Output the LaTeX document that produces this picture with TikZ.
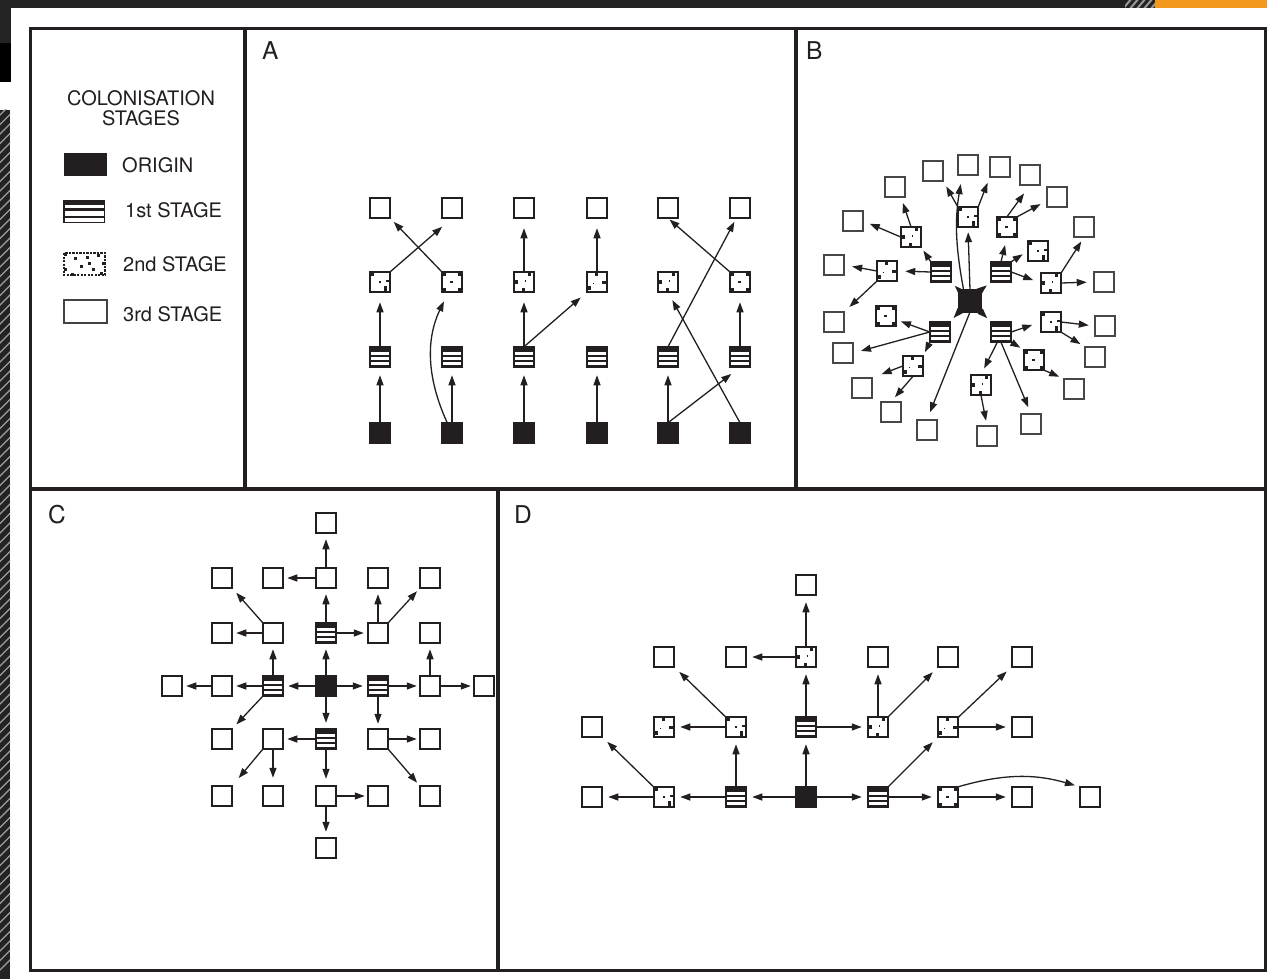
\documentclass[tikz,border=0pt]{standalone}
\usepackage{fontspec}
\setmainfont{TeX Gyre Heros}
\usetikzlibrary{arrows.meta,calc}
\definecolor{uibar}{HTML}{232323}
\definecolor{uiorange}{HTML}{F39A1E}
\definecolor{ink}{HTML}{231F20}
\newcommand\dsq[4]{\fill[ink] ($(path picture bounding box.north west)+(#1,#2)$) rectangle ($(path picture bounding box.north west)+(#3,#4)$);}
\newcommand\wsq[4]{\fill[white] ($(path picture bounding box.north west)+(#1,#2)$) rectangle ($(path picture bounding box.north west)+(#3,#4)$);}
\begin{document}
\begin{tikzpicture}[x=1pt,y=-1pt,
  box/.style={draw=ink, line width=1.7pt, minimum size=20.5pt, inner sep=0pt, outer sep=0pt, fill=white},
  orig/.style={box, fill=ink},
  third/.style={box},
  thirdB/.style={box, draw=black!72, line width=2pt},
  first/.style={box, fill=ink, path picture={\wsq{0.8}{4.8}{19.7}{7.8}\wsq{0.8}{9.9}{19.7}{13.6}\wsq{0.8}{15.7}{19.7}{18.7}}},
  secA/.style={box, path picture={\dsq{1}{1}{4.5}{4.5}\dsq{14}{14.5}{17.5}{19}\dsq{9.5}{9.5}{11}{11}\dsq{16.5}{8}{19.5}{10.5}}},
  secB/.style={box, path picture={\dsq{14}{1}{17.5}{4.5}\dsq{1}{8}{4}{12}\dsq{8}{16}{11}{19.5}\dsq{11}{8.5}{12.5}{10}}},
  secC/.style={box, path picture={\dsq{1}{1}{4}{4}\dsq{16.5}{1}{19.5}{4}\dsq{1}{16.5}{4}{19.5}\dsq{16.5}{16.5}{19.5}{19.5}\dsq{8.5}{9.5}{11.5}{10.8}}},
  secD/.style={box, path picture={\dsq{8}{1}{11}{4.5}\dsq{1}{14}{4}{18}\dsq{15.5}{9}{19.5}{12}\dsq{6}{11}{7.5}{12.5}}},
  arr/.style={-{Triangle[length=10pt,width=7pt]}, line width=1.3pt, draw=ink, shorten >=#1},
  arr/.default=6pt,
  lbl/.style={font=\fontsize{20}{20}\selectfont, text=ink, inner sep=0pt},
  plbl/.style={font=\fontsize{24.5}{24}\selectfont, text=ink, inner sep=0pt, anchor=base west},
  frame/.style={draw=ink, line width=3.6pt}
]
\useasboundingbox (0,0) rectangle (1267,979);
\fill[white] (0,0) rectangle (1267,979);
% ---- screen artefacts ----
\fill[uibar] (0,0) rectangle (1125,8);
\fill[uiorange] (1155,0) rectangle (1267,8);
\begin{scope}
  \clip (1125,0) rectangle (1155,8);
  \fill[uibar] (1125,0) rectangle (1155,8);
  \foreach \k in {0,...,5} \draw[gray!80, line width=2pt] ({1122+\k*7},10) -- ++(10,-12);
\end{scope}
\fill[uibar] (0,0) rectangle (11,43);
\fill[black] (0,43) rectangle (11,82);
\begin{scope}
  \clip (0,110) rectangle (10,979);
  \fill[uibar] (0,110) rectangle (10,979);
  \foreach \k in {0,...,90} \draw[gray!75, line width=1.3pt] (-3,{118+\k*9.5}) -- ++(16,-16);
\end{scope}
% ---- frame ----
\draw[frame] (30.5,28.5) rectangle (1266,970.5);
\draw[frame] (245,28.5) -- (245,489);
\draw[frame] (796,28.5) -- (796,489);
\draw[frame] (30.5,489) -- (1266,489);
\draw[frame] (498,489) -- (498,970.5);
% ---- panel letters ----
\node[plbl] (labA) at (262,60) {A};
\node[plbl] (labB) at (806,60) {B};
\node[plbl] (labC) at (48,523) {C};
\node[plbl] (labD) at (514,523) {D};
% ---- legend ----
\node[lbl, align=center] (ltitle) at (141,108) {COLONISATION\\STAGES};
\fill[ink] (64,153) rectangle (107,176);
\fill[ink] (63,200) rectangle (105,223);
\fill[white] (64.5,205) rectangle (104,208.3);
\fill[white] (64.5,210.7) rectangle (104,216);
\fill[white] (64.5,218.3) rectangle (104,221.7);
\draw[ink, line width=1.3pt, dash pattern=on 2.2pt off 1.3pt] (64,253) rectangle (105,275);
\foreach \p/\q in {64/253,74/257,86/256,97/254,102/262,80/265,92/268,64/268,71/273,100/272,88/262}
  \fill[ink] (\p,\q) rectangle ++(2.6,2.6);
\draw[ink!85, line width=1.5pt] (64,300) rectangle (107,323);
\node[lbl, anchor=base west] (lorig) at (122,173) {ORIGIN};
\node[lbl, anchor=base west] (lfirst) at (125,218) {1st STAGE};
\node[lbl, anchor=base west] (lsecond) at (123,271) {2nd STAGE};
\node[lbl, anchor=base west] (lthird) at (123,321) {3rd STAGE};
% ================= PANEL A =================
\foreach \n/\x in {1/380,2/452,3/524,4/597,5/668,6/740}{
  \node[orig] (ao\n) at (\x,433) {};
  \node[first] (af\n) at (\x,357) {};
  \node[third] (at\n) at (\x,208) {};
}
\node[secA] (as1) at (380,282) {};
\node[secC] (as2) at (452,282) {};
\node[secB] (as3) at (524,282) {};
\node[secD] (as4) at (597,282) {};
\node[secB] (as5) at (668,282) {};
\node[secC] (as6) at (740,282) {};
\draw[arr=8pt] (ao1) -- (af1);
\draw[arr=10pt] (af1) -- (as1);
\draw[arr=13pt] (as1.north east) -- (at2.south);
\draw[arr=5pt] (as2.north west) -- (at1.south east);
\draw[arr=10pt] (ao2.115) to[bend left=25] (as2.250);
\draw[arr=8pt] (ao2) -- (af2);
\draw[arr=8pt] (ao3) -- (af3);
\draw[arr=10pt] (af3) -- (as3);
\draw[arr=10pt] (as3) -- (at3);
\draw[arr=8pt] (af3.north) -- (as4.south west);
\draw[arr=10pt] (as4) -- (at4);
\draw[arr=8pt] (ao4) -- (af4);
\draw[arr=8pt] (ao5) -- (af5);
\draw[arr=11pt] (ao5.north) -- (af6.south);
\draw[arr=4pt] (af5.north) -- (at6.250);
\draw[arr=9pt] (ao6.north) -- (as5.south);
\draw[arr=10pt] (af6) -- (as6);
\draw[arr=2pt] (as6.north west) -- (at5.south);
% ================= PANEL B =================
\node[orig, minimum size=22pt] (O) at (970,301) {};
\node[first] (F1) at (941,272) {};
\node[first] (F2) at (1001,272) {};
\node[first] (F3) at (940,332) {};
\node[first] (F4) at (1001,332) {};
\node[secA] (S1) at (968,217) {};
\node[secB] (S2) at (911,237) {};
\node[secD] (S3) at (887,271) {};
\node[secC] (S4) at (1007,227) {};
\node[secA] (S5) at (1038,251) {};
\node[secB] (S6) at (1051,283) {};
\node[secC] (S7) at (886,316) {};
\node[secD] (S8) at (913,366) {};
\node[secA] (S9) at (1051,322) {};
\node[secC] (S10) at (1034,360) {};
\node[secB] (S11) at (981,385) {};
\foreach \n/\x/\y in {1/933/171,2/968/165,3/1000/167,4/1030/175,5/1057/197,6/1084/227,7/1104/282,8/1105/326,9/1095/357,10/1074/389,11/1031/424,12/987/436,13/927/430,14/891/412,15/862/388,16/843/353,17/834/322,18/834/265,19/853/221,20/895/187}
  \node[thirdB] (T\n) at (\x,\y) {};
\draw[arr=5pt] (O.north west) -- (F1.south east);
\draw[arr=5pt] (O.north east) -- (F2.south west);
\draw[arr=5pt] (O.south west) -- (F3.north east);
\draw[arr=5pt] (O.south east) -- (F4.north west);
\draw[arr=5pt] (O.north) -- (S1.south);
\draw[arr=9pt] (O.120) to[bend left=10] (T2.240);
\draw[arr=6pt] (S1.north west) -- (T1.south east);
\draw[arr=6pt] (S1.north east) -- (T3.south west);
\draw[arr=4pt] (F1.north west) -- (S2.south east);
\draw[arr=8pt] (F1.west) -- (S3.east);
\draw[arr=6pt] (S2.north) -- (T20.300);
\draw[arr=7pt] (S2.west) -- (T19.east);
\draw[arr=8pt] (S3.west) -- (T18.east);
\draw[arr=7pt] (S3.south west) -- (T17.north east);
\draw[arr=8pt] (F2.north) -- (S4.south);
\draw[arr=6pt] (F2.north east) -- (S5.west);
\draw[arr=8pt] (F2.east) -- (S6.west);
\draw[arr=10pt] (S4.north) -- (T4.south);
\draw[arr=7pt] (S4.north east) -- (T5.200);
\draw[arr=5pt] (S6.north east) -- (T6.south);
\draw[arr=7pt] (S6.east) -- (T7.west);
\draw[arr=5pt] (F3.west) -- (S7.340);
\draw[arr=8pt] (F3.west) -- (T16.east);
\draw[arr=4pt] (F3.south west) -- (S8.north east);
\draw[arr=10pt] (S8.west) -- (T15.north east);
\draw[arr=6pt] (S8.south) -- (T14.north);
\draw[arr=8pt] (O.south) -- (T13.north);
\draw[arr=9pt] (F4.east) -- (S9.west);
\draw[arr=4pt] (F4.south east) -- (S10.north west);
\draw[arr=7pt] (F4.250) -- (S11.north);
\draw[arr=7pt] (F4.south) -- (T11.north);
\draw[arr=6pt] (S9.east) -- (T8.west);
\draw[arr=5pt] (S9.south east) -- (T9.north west);
\draw[arr=5pt] (S10.south east) -- (T10.north west);
\draw[arr=5pt] (S11.south) -- (T12.north);
% ================= PANEL C =================
\node[third] (cN) at (326,523) {};
\foreach \n/\x in {1/222,2/273,3/326,4/378,5/430}{
  \node[third] (ca\n) at (\x,578) {};
  \node[third] (ce\n) at (\x,796) {};
}
\node[third] (cb1) at (222,633) {};
\node[third] (cb2) at (273,633) {};
\node[first] (cb3) at (326,633) {};
\node[third] (cb4) at (378,633) {};
\node[third] (cb5) at (430,633) {};
\node[third] (cc0) at (172,686) {};
\node[third] (cc1) at (222,686) {};
\node[first] (cc2) at (273,686) {};
\node[orig] (cc3) at (326,686) {};
\node[first] (cc4) at (378,686) {};
\node[third] (cc5) at (430,686) {};
\node[third] (cc6) at (484,686) {};
\node[third] (cd1) at (222,739) {};
\node[third] (cd2) at (273,739) {};
\node[first] (cd3) at (326,739) {};
\node[third] (cd4) at (378,739) {};
\node[third] (cd5) at (430,739) {};
\node[third] (cS) at (326,848) {};
\draw[arr=6pt] (cc3) -- (cb3);
\draw[arr=5pt] (cc3) -- (cc2);
\draw[arr=5pt] (cc3) -- (cc4);
\draw[arr=6pt] (cc3) -- (cd3);
\draw[arr=6pt] (cb3) -- (ca3);
\draw[arr=4pt] (cb3) -- (cb4);
\draw[arr=6pt] (ca3) -- (cN);
\draw[arr=4pt] (ca3) -- (ca2);
\draw[arr=6pt] (cb4) -- (ca4);
\draw[arr=4pt] (cb4.north east) -- (ca5.south west);
\draw[arr=6pt] (cc2) -- (cb2);
\draw[arr=4pt] (cc2) -- (cc1);
\draw[arr=6pt] (cc2.south west) -- (cd1.north east);
\draw[arr=4pt] (cb2) -- (cb1);
\draw[arr=6pt] (cb2.north west) -- (ca1.south east);
\draw[arr=4pt] (cc1) -- (cc0);
\draw[arr=3pt] (cc4) -- (cc5);
\draw[arr=5pt] (cc4) -- (cd4);
\draw[arr=6pt] (cc5) -- (cb5);
\draw[arr=3pt] (cc5) -- (cc6);
\draw[arr=3pt] (cd4) -- (cd5);
\draw[arr=4pt] (cd4.south east) -- (ce5.north west);
\draw[arr=4pt] (cd3) -- (cd2);
\draw[arr=7pt] (cd3) -- (ce3);
\draw[arr=10pt] (cd2.south west) -- (ce1.north east);
\draw[arr=8pt] (cd2) -- (ce2);
\draw[arr=3pt] (ce3) -- (ce4);
\draw[arr=6pt] (ce3) -- (cS);
% ================= PANEL D =================
\node[third] (dT) at (806,585) {};
\node[third] (da2) at (664,657) {};
\node[third] (da3) at (736,657) {};
\node[secB] (da4) at (806,657) {};
\node[third] (da5) at (878,657) {};
\node[third] (da6) at (948,657) {};
\node[third] (da7) at (1022,657) {};
\node[third] (db1) at (592,727) {};
\node[secD] (db2) at (664,727) {};
\node[secA] (db3) at (736,727) {};
\node[first] (db4) at (806,727) {};
\node[secB] (db5) at (878,727) {};
\node[secD] (db6) at (948,727) {};
\node[third] (db7) at (1022,727) {};
\node[third] (dc1) at (592,797) {};
\node[secA] (dc2) at (664,797) {};
\node[first] (dc3) at (736,797) {};
\node[orig] (dc4) at (806,797) {};
\node[first] (dc5) at (878,797) {};
\node[secC] (dc6) at (948,797) {};
\node[third] (dc7) at (1022,797) {};
\node[third] (dc8) at (1090,797) {};
\draw[arr=6pt] (dc4) -- (dc3);
\draw[arr=6pt] (dc4) -- (dc5);
\draw[arr=7pt] (dc4) -- (db4);
\draw[arr=6pt] (dc3) -- (dc2);
\draw[arr=7pt] (dc3) -- (db3);
\draw[arr=6pt] (dc2) -- (dc1);
\draw[arr=7pt] (dc2) -- (db1);
\draw[arr=6pt] (db3) -- (db2);
\draw[arr=7pt] (db3) -- (da2);
\draw[arr=7pt] (db4) -- (da4);
\draw[arr=6pt] (db4) -- (db5);
\draw[arr=7pt] (da4) -- (dT);
\draw[arr=6pt] (da4) -- (da3);
\draw[arr=7pt] (db5) -- (da5);
\draw[arr=7pt] (db5) -- (da6);
\draw[arr=6pt] (dc5) -- (dc6);
\draw[arr=7pt] (dc5) -- (db6);
\draw[arr=6pt] (db6) -- (db7);
\draw[arr=7pt] (db6) -- (da7);
\draw[arr=6pt] (dc6) -- (dc7);
\draw[arr=5pt] (dc6.north east) to[bend left=16] (dc8.north west);
\end{tikzpicture}
\end{document}
